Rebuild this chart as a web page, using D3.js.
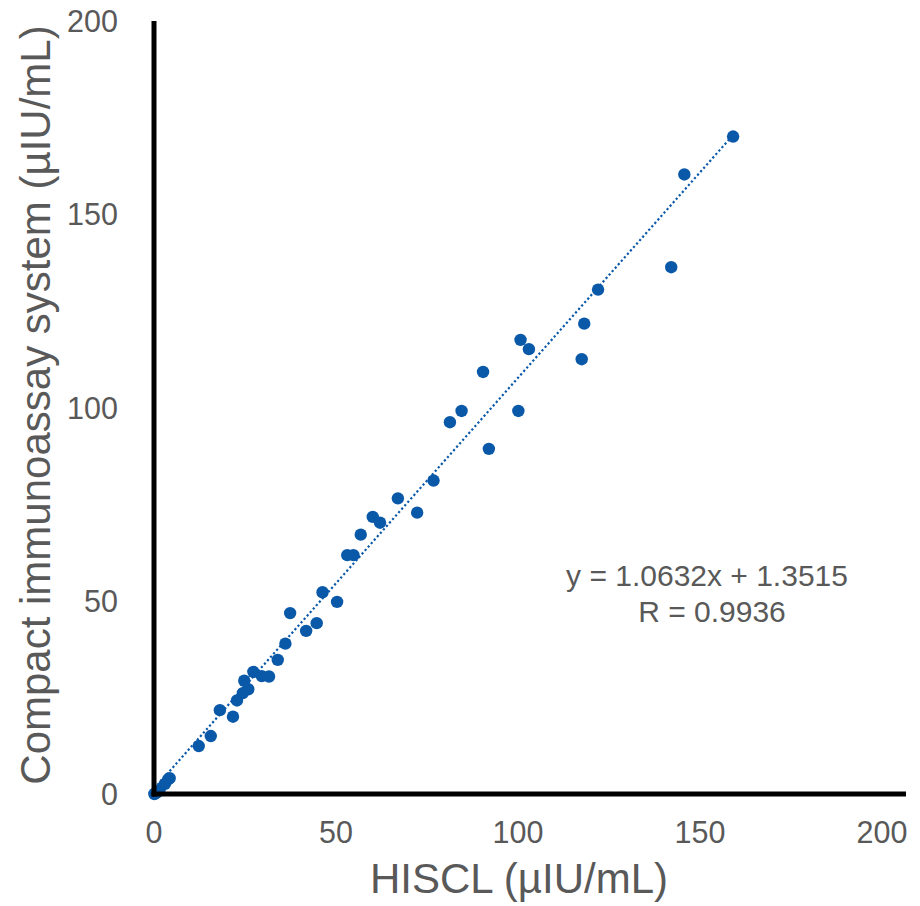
<!DOCTYPE html>
<html>
<head>
<meta charset="utf-8">
<script src="https://cdn.jsdelivr.net/npm/d3@7"></script>
<style>
  body { margin: 0; background: #fff; }
  svg text { font-family: "Liberation Sans", Arial, sans-serif; fill: #595959; }
</style>
</head>
<body>
<div id="chart"></div>
<script>
// HISCL vs compact immunoassay
const HISCL = [
  159.1, 145.7, 142.1, 122.0, 118.2, 117.5, 100.7, 103.0, 90.4, 100.1,
  84.5, 81.3, 92.0, 76.8, 67.0, 72.3, 60.1, 62.1, 56.8, 53.1,
  54.8, 46.3, 50.3, 37.4, 44.7, 41.8, 36.1, 34.0, 27.3, 29.6,
  31.6, 24.8, 25.9, 24.4, 22.8, 21.7, 18.1, 15.6, 12.3, 3.9,
  4.3, 3.0, 1.5, 0.8, 0.5, 0.1
]
const COMPACT = [
  170.1, 160.3, 136.3, 130.5, 121.7, 112.5, 117.5, 115.1, 109.2, 99.1,
  99.1, 96.2, 89.3, 81.1, 76.5, 72.8, 71.7, 70.2, 67.1, 61.8,
  61.8, 52.2, 49.7, 46.8, 44.2, 42.2, 38.9, 34.7, 31.6, 30.5,
  30.4, 29.3, 27.1, 26.1, 24.2, 20.0, 21.7, 15.0, 12.4, 3.8,
  4.1, 2.6, 1.0, 0.4, 0.2, 0.0
]
const X_TICKS = [0, 50, 100, 150, 200]
const Y_TICKS = [0, 50, 100, 150, 200]
const SLOPE = 1.0632
const INTERCEPT = 1.3515
const EQ_LABEL = 'y = 1.0632x + 1.3515'
const R_LABEL = 'R = 0.9936'

const width = 920
const height = 906
const blue = '#0a59a8'

const svg = d3.select('#chart').append('svg')
  .attr('width', width)
  .attr('height', height)

const x = d3.scaleLinear().domain([0, 206.6]).range([154, 906])
const y = d3.scaleLinear().domain([0, 200]).range([794, 21])

// tick labels
svg.append('g').selectAll('text')
  .data(X_TICKS)
  .join('text')
  .attr('x', d => x(d))
  .attr('y', 843)
  .attr('text-anchor', 'middle')
  .style('font-size', '30.5px')
  .text(d => d)

svg.append('g').selectAll('text')
  .data(Y_TICKS)
  .join('text')
  .attr('x', 118)
  .attr('y', d => y(d) + 11)
  .attr('text-anchor', 'end')
  .style('font-size', '30.5px')
  .text(d => d)

// trendline
const xs = d3.extent(HISCL)
svg.append('line')
  .attr('x1', x(xs[0]))
  .attr('y1', y(SLOPE * xs[0] + INTERCEPT))
  .attr('x2', x(xs[1]))
  .attr('y2', y(SLOPE * xs[1] + INTERCEPT))
  .attr('stroke', blue)
  .attr('stroke-width', 2.2)
  .attr('stroke-dasharray', '2.2,2.4')

// points
svg.append('g').selectAll('circle')
  .data(HISCL.map((d, i) => [d, COMPACT[i]]))
  .join('circle')
  .attr('cx', d => x(d[0]))
  .attr('cy', d => y(d[1]))
  .attr('r', 6.2)
  .attr('fill', blue)

// axes lines
svg.append('line')
  .attr('x1', x(0)).attr('x2', x(0))
  .attr('y1', y(200)).attr('y2', y(0) + 2.5)
  .attr('stroke', '#000').attr('stroke-width', 5)
svg.append('line')
  .attr('x1', x(0) - 2.5).attr('x2', x.range()[1])
  .attr('y1', y(0)).attr('y2', y(0))
  .attr('stroke', '#000').attr('stroke-width', 5)

// equation
svg.append('text')
  .attr('x', 707).attr('y', 586)
  .attr('text-anchor', 'middle')
  .style('font-size', '30px')
  .text(EQ_LABEL)
svg.append('text')
  .attr('x', 712).attr('y', 622)
  .attr('text-anchor', 'middle')
  .style('font-size', '30px')
  .text(R_LABEL)

// axis titles
svg.append('text')
  .attr('x', 519).attr('y', 893)
  .attr('text-anchor', 'middle')
  .style('font-size', '42px')
  .text('HISCL (µIU/mL)')

svg.append('text')
  .attr('transform', 'translate(50,405) rotate(-90)')
  .attr('text-anchor', 'middle')
  .style('font-size', '42px')
  .text('Compact immunoassay system (µIU/mL)')
</script>
</body>
</html>
